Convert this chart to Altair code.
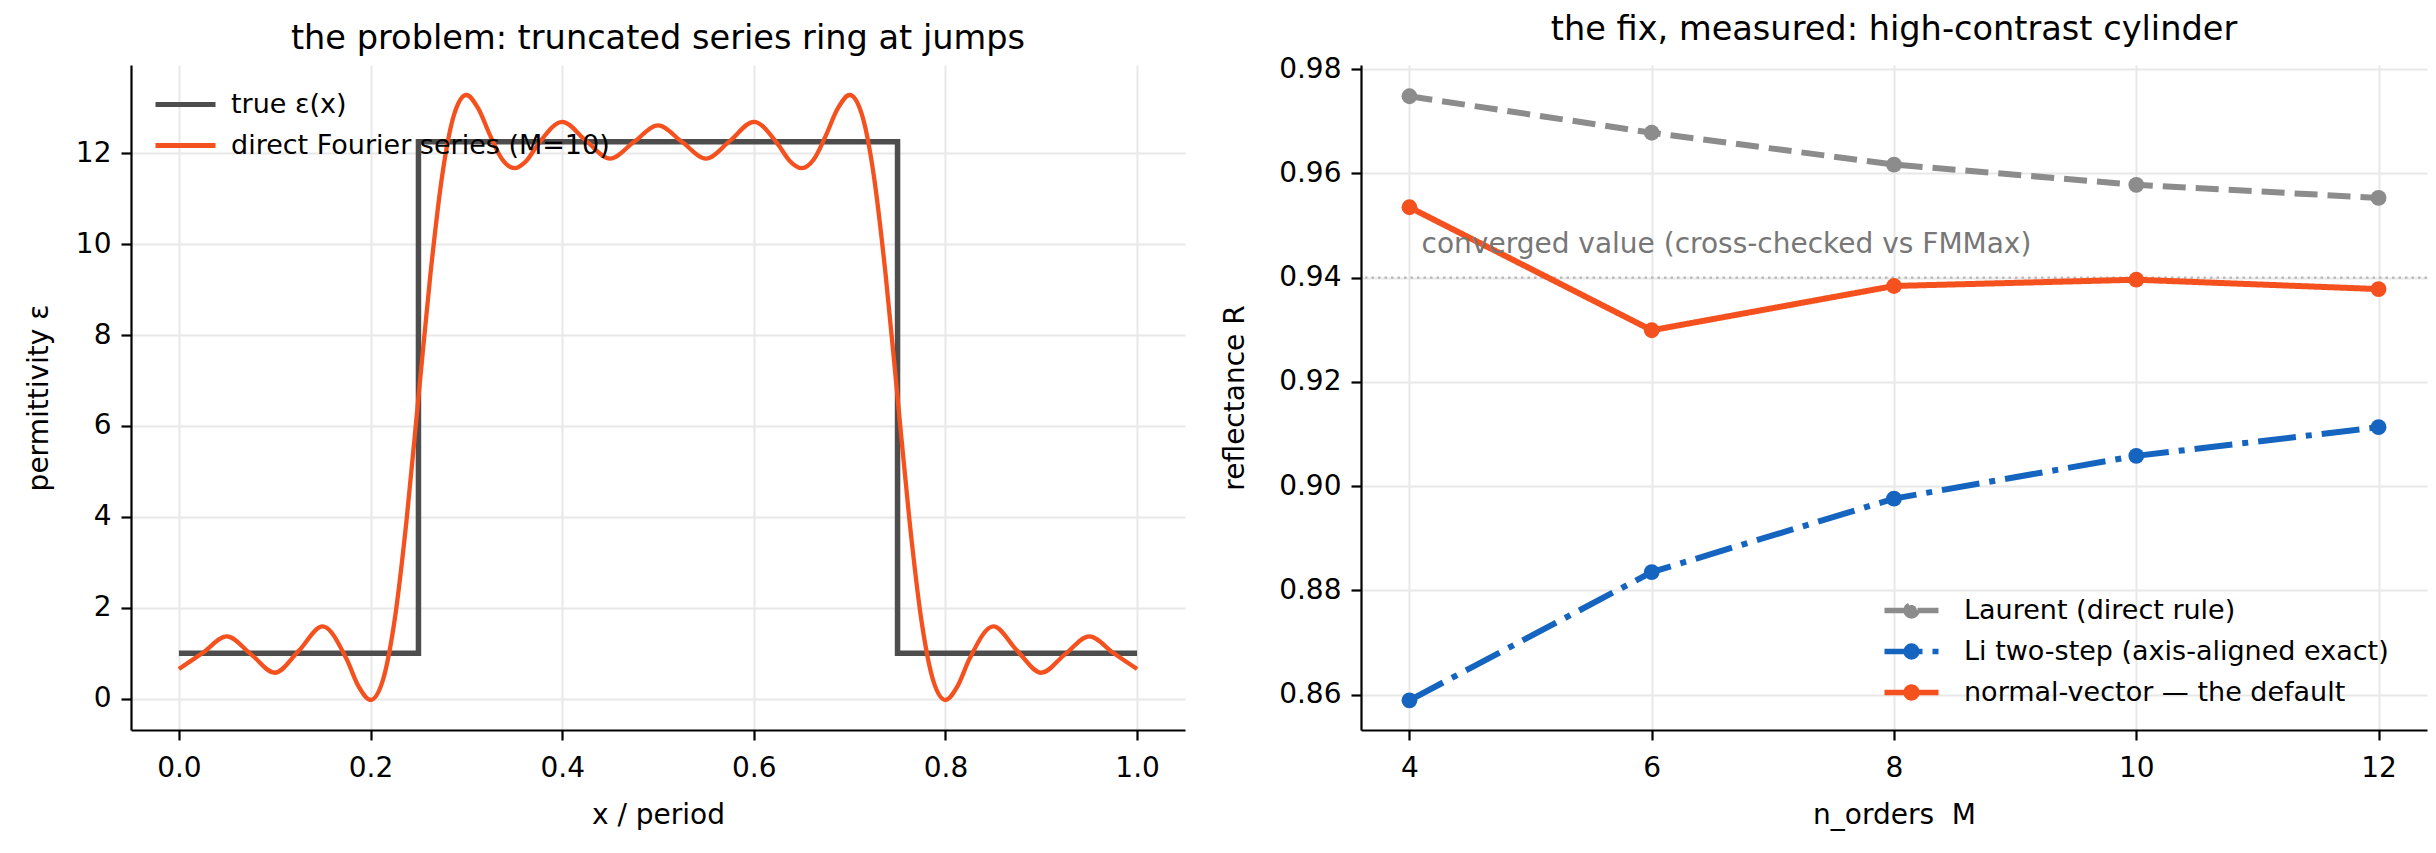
import altair as alt
import pandas as pd

FONT = "DejaVu Sans"

# ---------------- left panel data ----------------
step_x = [0.0, 0.25, 0.25, 0.75, 0.75, 1.0]
step_eps = [1.0, 1.0, 12.25, 12.25, 1.0, 1.0]

fourier_x = [0.0, 0.025, 0.05, 0.075, 0.1, 0.125, 0.15, 0.175, 0.1875, 0.2,
             0.2125, 0.225, 0.2375, 0.25, 0.2625, 0.275, 0.2875, 0.3, 0.3125,
             0.325, 0.3375, 0.35, 0.3625, 0.375, 0.4, 0.425, 0.45, 0.475, 0.5,
             0.525, 0.55, 0.575, 0.6, 0.625, 0.6375, 0.65, 0.6625, 0.675,
             0.6875, 0.7, 0.7125, 0.725, 0.7375, 0.75, 0.7625, 0.775, 0.7875,
             0.8, 0.8125, 0.825, 0.85, 0.875, 0.9, 0.925, 0.95, 0.975, 1.0]
fourier_eps = [0.65, 1.01, 1.37, 0.98, 0.57, 1.05, 1.59, 0.87, 0.27, -0.03,
               0.38, 1.71, 3.91, 6.63, 9.34, 11.54, 12.87, 13.28, 12.98,
               12.38, 11.86, 11.67, 11.83, 12.20, 12.69, 12.27, 11.88, 12.25, 12.61,
               12.25, 11.88, 12.27, 12.69, 12.20, 11.83, 11.67, 11.86, 12.38,
               12.98, 13.28, 12.87, 11.54, 9.34, 6.63, 3.91, 1.71, 0.38,
               -0.03, 0.27, 0.87, 1.59, 1.05, 0.57, 0.98, 1.37, 1.01, 0.65]

left_series = ["true ε(x)", "direct Fourier series (M=10)"]
left_colors = ["#4d4d4d", "#f4511e"]
left_xticks = [0.0, 0.2, 0.4, 0.6, 0.8, 1.0]
left_yticks = [0, 2, 4, 6, 8, 10, 12]

# ---------------- right panel data ----------------
orders = [4, 6, 8, 10, 12]
R_laurent = [0.9748, 0.9678, 0.9617, 0.9578, 0.9553]
R_li = [0.8589, 0.8835, 0.8976, 0.9058, 0.9113]
R_normal = [0.9535, 0.9299, 0.9384, 0.9396, 0.9378]
R_converged = 0.94
right_series = ["Laurent (direct rule)", "Li two-step (axis-aligned exact)",
                "normal-vector — the default"]
right_colors = ["#8c8c8c", "#1565c0", "#f4511e"]
right_dashes = [[23, 10], [38, 10, 6, 10], [1, 0]]
right_xticks = [4, 6, 8, 10, 12]
right_yticks = [0.86, 0.88, 0.90, 0.92, 0.94, 0.96, 0.98]
ann_text = "converged value (cross-checked vs FMMax)"
ann_M, ann_R = 4.1, 0.9447

PW_L, PW_R, PH = 1054, 1066, 665

# ---------------- left panel ----------------
step_df = pd.DataFrame({"x": step_x, "eps": step_eps,
                        "series": left_series[0], "i": range(len(step_x))})
four_df = pd.DataFrame({"x": fourier_x, "eps": fourier_eps,
                        "series": left_series[1], "i": range(len(fourier_x))})

left_leg = alt.Legend(title=None, orient="none", legendX=37, legendY=22,
                      symbolType="M-2,0H2", symbolSize=900, symbolStrokeWidth=5,
                      labelFontSize=27, labelFont=FONT, labelColor="#000", labelLimit=0,
                      labelOffset=28, rowPadding=10, padding=0)
left_stroke = alt.Stroke("series:N", scale=alt.Scale(domain=left_series, range=left_colors),
                         legend=left_leg)
xl = alt.X("x:Q", scale=alt.Scale(domain=[-0.05, 1.05], nice=False, zero=False),
           axis=alt.Axis(values=left_xticks, format=".1f", title="x / period",
                         labelFlush=False, labelPadding=14, titleY=85, titleBaseline="middle"))
yl = alt.Y("eps:Q", scale=alt.Scale(domain=[-0.69, 13.94], nice=False, zero=False),
           axis=alt.Axis(values=left_yticks, format="d", title="permittivity ε",
                         labelPadding=10, titleX=-92, titleY=PH / 2, titleAngle=-90,
                         titleAlign="center", titleBaseline="middle"))

step = alt.Chart(step_df).mark_line(strokeWidth=5.5, strokeJoin="miter").encode(
    x=xl, y=yl, stroke=left_stroke, order="i:Q")
four = alt.Chart(four_df).mark_line(strokeWidth=4.3, interpolate="monotone").encode(
    x=xl, y=yl, stroke=left_stroke, order="i:Q")

TITLE_KW = dict(fontSize=33.6, fontWeight="normal", font=FONT, color="#000",
                anchor="middle", frame="group", baseline="alphabetic", offset=-18)

left = alt.layer(step, four).properties(
    width=PW_L, height=PH,
    title=alt.TitleParams("the problem: truncated series ring at jumps", **TITLE_KW))

# ---------------- right panel ----------------
rows = []
for s, vals in zip(right_series, [R_laurent, R_li, R_normal]):
    for m, r in zip(orders, vals):
        rows.append({"M": m, "R": r, "series": s})
rdf = pd.DataFrame(rows)

right_leg = alt.Legend(title=None, orient="none", legendX=534, legendY=529,
                       symbolType="M-2,0H2M0.4,0A0.4,0.4,0,1,1,-0.4,0A0.4,0.4,0,1,1,0.4,0Z",
                       symbolSize=729, symbolStrokeWidth=5.5,
                       labelFontSize=27, labelFont=FONT, labelColor="#000", labelLimit=0,
                       labelOffset=36, rowPadding=8, padding=0)
xr = alt.X("M:Q", scale=alt.Scale(domain=[3.6, 12.4], nice=False, zero=False),
           axis=alt.Axis(values=right_xticks, format="d", title="n_orders\u00a0\u00a0M",
                         labelFlush=False, labelPadding=14, titleY=85, titleBaseline="middle"))
yr = alt.Y("R:Q", scale=alt.Scale(domain=[0.8532, 0.9808], nice=False, zero=False),
           axis=alt.Axis(values=right_yticks, format=".2f", title="reflectance R",
                         labelPadding=10, titleX=-126, titleY=PH / 2, titleAngle=-90,
                         titleAlign="center", titleBaseline="middle"))

rule = alt.Chart(pd.DataFrame({"R": [R_converged]})).mark_rule(
    color="#b8b8b8", strokeWidth=2.2, strokeDash=[2.5, 4]).encode(y=yr)
lines = alt.Chart(rdf).mark_line(strokeWidth=6).encode(
    x=xr, y=yr,
    stroke=alt.Stroke("series:N", scale=alt.Scale(domain=right_series, range=right_colors),
                      legend=right_leg),
    strokeDash=alt.StrokeDash("series:N", scale=alt.Scale(domain=right_series, range=right_dashes),
                              legend=right_leg),
    order="M:Q")
pts = alt.Chart(rdf).mark_point(filled=True, size=250, opacity=1).encode(
    x=xr, y=yr,
    fill=alt.Fill("series:N", scale=alt.Scale(domain=right_series, range=right_colors),
                  legend=right_leg))
ann = alt.Chart(pd.DataFrame({"M": [ann_M], "R": [ann_R], "t": [ann_text]})).mark_text(
    align="left", baseline="alphabetic", fontSize=28, font=FONT, color="#777777").encode(
    x=xr, y=yr, text="t:N")

right = alt.layer(rule, lines, pts, ann).properties(
    width=PW_R, height=PH,
    title=alt.TitleParams("the fix, measured: high-contrast cylinder", **TITLE_KW))

chart = alt.hconcat(left, right, spacing=36).resolve_scale(
    stroke="independent", fill="independent", strokeDash="independent"
).resolve_legend(
    stroke="independent", fill="independent", strokeDash="independent"
).properties(
    padding={"left": 25, "top": 12, "right": 5, "bottom": 5}, background="white"
).configure(font=FONT).configure_view(stroke=None).configure_axis(
    domainColor="#000", domainWidth=2.2, tickColor="#000", tickWidth=2.2, tickSize=10,
    labelFontSize=28, labelFont=FONT, labelColor="#000",
    titleFontSize=28, titleFont=FONT, titleColor="#000", titleFontWeight="normal",
    gridColor="#e8e8e8", gridWidth=2
)

chart.save("out.html", embed_options={"renderer": "svg", "actions": False})
